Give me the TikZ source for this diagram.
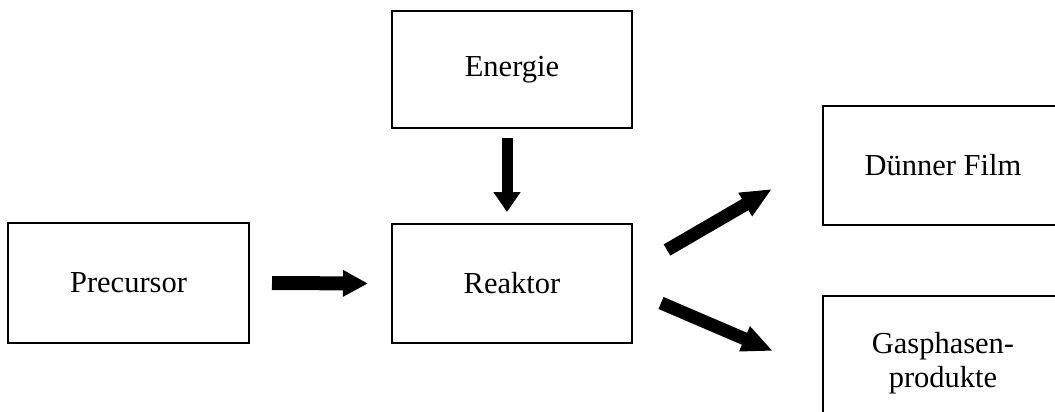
\documentclass[tikz,border=0pt]{standalone}
\usepackage{fontspec}
\setmainfont{Liberation Serif}
\usetikzlibrary{arrows.meta}
\begin{document}
\begin{tikzpicture}[x=1pt,y=-1pt,
  box/.style={draw=black,line width=2pt,fill=white,inner sep=0pt,outer sep=0pt,
    minimum width=240pt,minimum height=119pt,align=center,
    font=\fontsize{30.5}{34}\selectfont},
  fat/.style={line width=13pt,-{Triangle[width=25pt,length=25pt]}},
  fatdiag/.style={line width=13pt,-{Triangle[width=25pt,length=31pt]}}]
\useasboundingbox (0,0) rectangle (1055,412);
\clip (0,0) rectangle (1055,412);
\fill[white] (0,0) rectangle (1055,412);

% process boxes (the two output boxes run past the right and bottom edges)
\node[box,minimum width=241pt,minimum height=120pt] (prec) at (128.5,283) {Precursor};
\node[box] (reak) at (512,283.5) {Reaktor};
\node[box,minimum height=117pt] (ener) at (512,69.5) {Energie};
\node[box] (film) at (943,165.5) {Dünner Film};
\node[box,minimum height=134pt] (gas) at (943,363) {Gasphasen-\\produkte};

% flows into and out of the reactor
\draw[fat,line width=14pt] ([xshift=23pt]prec.east) -- ([xshift=-24pt]reak.west);
\draw[fat,line width=11pt,-{Triangle[width=26pt,length=20pt]}]
  ([xshift=-5pt,yshift=-10pt]ener.south) -- ([xshift=-5pt,yshift=12pt]reak.north);
\draw[fatdiag] ([xshift=35pt,yshift=33.5pt]reak.east) -- ([xshift=-51pt,yshift=-23.5pt]film.west);
\draw[fatdiag] ([xshift=29pt,yshift=-19.5pt]reak.east) -- ([xshift=-50pt,yshift=12pt]gas.west);
\end{tikzpicture}
\end{document}
